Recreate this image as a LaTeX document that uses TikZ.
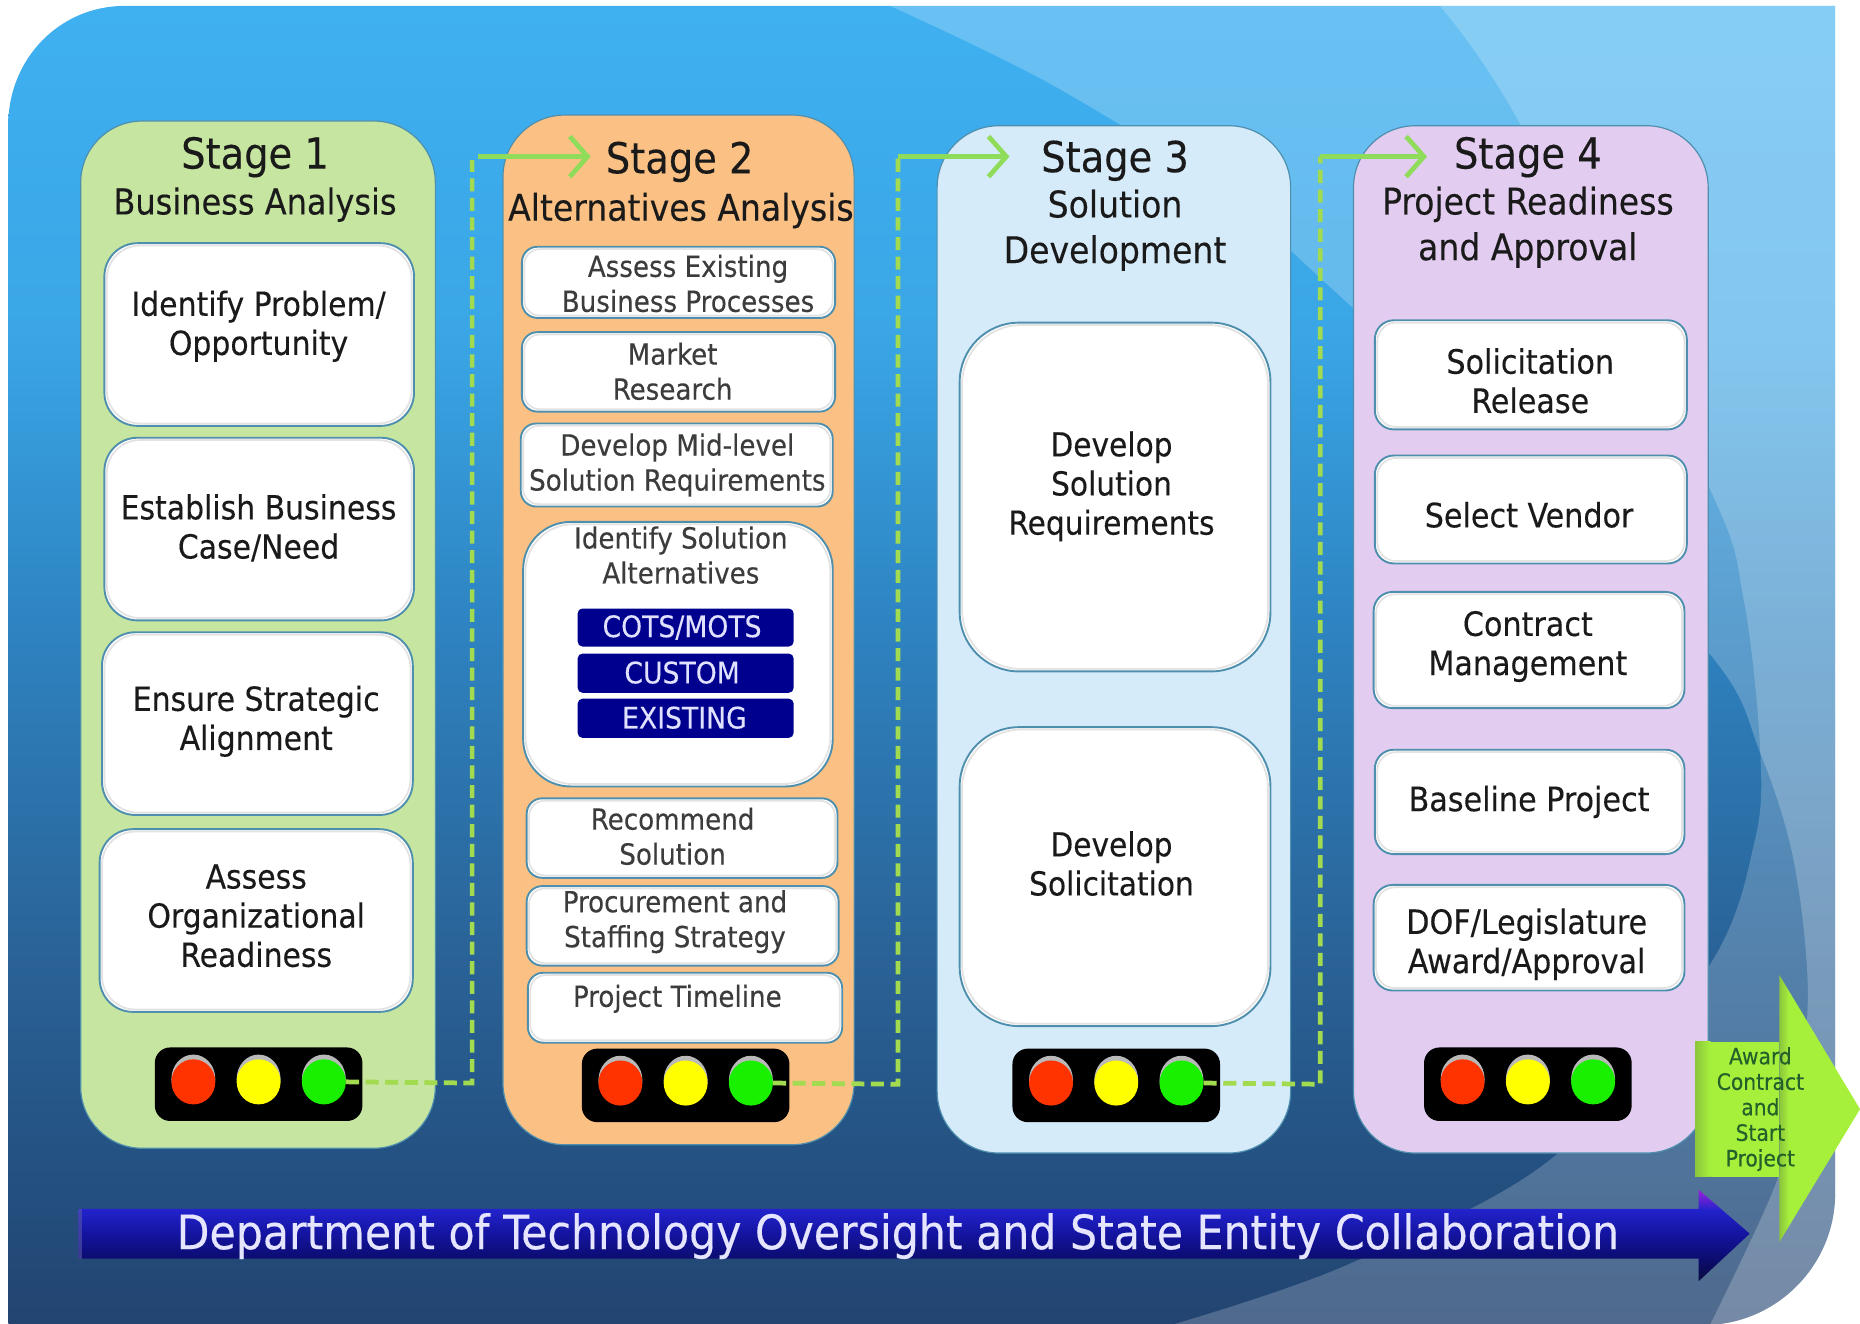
\documentclass[tikz,border=0pt]{standalone}
\usepackage{fontspec}
\setmainfont[FakeBold=0.25]{DejaVu Sans Condensed}
\usetikzlibrary{arrows.meta,shapes.geometric}
\definecolor{cA}{HTML}{234470}\definecolor{cB}{HTML}{234F7F}\definecolor{cC}{HTML}{2A6398}
\definecolor{cD}{HTML}{2E84C2}\definecolor{cE}{HTML}{3AA6E6}\definecolor{cF}{HTML}{3FB0F0}
\definecolor{pg}{HTML}{C5E5A0}\definecolor{po}{HTML}{FBC184}\definecolor{pb}{HTML}{D6EBFA}\definecolor{pl}{HTML}{E2CCF0}
\definecolor{edge}{HTML}{4F8FAE}\definecolor{txt}{HTML}{1A1A1A}\definecolor{navy}{HTML}{00008F}
\definecolor{dashg}{HTML}{A2DA50}\definecolor{arrg}{HTML}{8FDB5A}
\definecolor{lgreen}{HTML}{A6F03C}\definecolor{dgreen}{HTML}{8CC63C}\definecolor{gtxt}{HTML}{24602A}
\definecolor{ared}{HTML}{FF3300}\definecolor{ayel}{HTML}{FFFF00}\definecolor{agrn}{HTML}{19F000}
\definecolor{ga}{HTML}{0A0A40}\definecolor{gb}{HTML}{0C0C70}\definecolor{gc}{HTML}{1414A0}\definecolor{gd}{HTML}{2222CC}\definecolor{ge}{HTML}{9A22D8}
\pgfdeclareverticalshading{bgshade}{100bp}{color(0bp)=(cA);color(25bp)=(cA);color(30.2bp)=(cB);color(39.2bp)=(cC);color(51.8bp)=(cD);color(62.6bp)=(cE);color(75bp)=(cF);color(100bp)=(cF)}
\pgfdeclareverticalshading{barshade}{100bp}{color(0bp)=(ga);color(25bp)=(ga);color(37.3bp)=(gb);color(50.9bp)=(gc);color(63.9bp)=(gd);color(75bp)=(ge);color(100bp)=(ge)}
\pgfdeclarehorizontalshading{greenshade}{100bp}{color(0bp)=(dgreen);color(25bp)=(dgreen);color(31bp)=(lgreen);color(100bp)=(lgreen)}
\tikzset{
 panel/.style={draw=edge,line width=1pt,inner sep=0pt},
 wbox/.style={draw=edge,line width=1.6pt,inner sep=0pt},
 navybox/.style={fill=navy,rounded corners=4pt,inner sep=0pt},
 lamphouse/.style={fill=black,rounded corners=13pt,inner sep=0pt},
 lamp/.style={ellipse,minimum width=37pt,inner sep=0pt},
 head/.style={text=txt,align=center,inner sep=0pt,yshift=-2.5pt,font=\fontsize{36}{40}\selectfont},
 sub/.style={text=txt,align=center,inner sep=0pt,yshift=-2.5pt,font=\fontsize{31}{38.5}\selectfont},
 big/.style={text=txt,align=center,inner sep=0pt,yshift=-1pt,font=\fontsize{28}{33}\selectfont},
 bigr/.style={text=txt,align=center,inner sep=0pt,yshift=-1pt,font=\fontsize{28.3}{33}\selectfont},
 bigc/.style={text=txt,align=center,inner sep=0pt,yshift=-1pt,font=\fontsize{27.8}{33}\selectfont},
 small/.style={text=txt!85!white,align=center,inner sep=0pt,font=\fontsize{24.5}{29.5}\selectfont},
 navytxt/.style={text=white!88!blue,align=center,inner sep=0pt,font=\fontsize{25}{28}\selectfont},
 dashline/.style={draw=dashg,line width=4pt,dash pattern=on 11pt off 5.5pt},
 solidarr/.style={draw=arrg,line width=4pt,-{Straight Barb[length=15pt,width=34pt,line width=4pt]}},
}
\newcommand\bx[7]{% name x1 y1 x2 y2 style radius
 \node[#6,rounded corners=#7,minimum width={(#4-#2)*1pt},minimum height={(#5-#3)*1pt}] (#1) at ({(#2+#4)/2},{(#3+#5)/2}) {};}
\newcommand\pn[6]{\bx{#1}{#2}{#3}{#4}{#5}{panel,fill=#6}{52pt}}
\newcommand\wb[6]{% name x1 y1 x2 y2 radius : white box with soft inner edge
 \bx{#1}{#2}{#3}{#4}{#5}{wbox,fill=white}{#6}
 \draw[gray!22,line width=1.5pt,rounded corners=#6] ({#2+2},{#3+2}) rectangle ({#4-2},{#5-2});}
\newcommand\lights[3]{% prefix x y
 \node[lamphouse,minimum width=175pt,minimum height=62pt] (#1) at (#2,#3) {};
 \foreach \dx/\cc/\nn in {-55/ared/r,0/ayel/y,55/agrn/g}{
  \node[lamp,minimum height=41pt,fill=gray!55] at ({#2+\dx},{#3-4.5}) {};
  \node[lamp,fill=\cc,minimum height=38pt] (#1\nn) at ({#2+\dx},{#3-2}) {};
 }}
\def\bgpath{(7,105) .. controls (7,50) and (50,5) .. (105,5) -- (1547,5) -- (1547,1006) .. controls (1547,1067) and (1497,1117) .. (1436,1117) -- (7,1117) -- cycle}
\begin{document}
\begin{tikzpicture}[x=1pt,y=-1pt]
\useasboundingbox (0,0) rectangle (1568,1116);
\shade[shading=bgshade] \bgpath;
\begin{scope}
 \clip \bgpath;
 \fill[white,opacity=.2] plot[smooth,tension=.55] coordinates {(1212,3) (1279,100) (1439,407) (1470,506) (1484,635) (1479,710) (1441,814) (1310,975) (1134,1067) (984,1118)} -- (1600,1118) -- (1600,0) -- cycle;
 \fill[white,opacity=.22] plot[smooth,tension=.55] coordinates {(746,3) (886,71) (1048,171) (1090,213) (1270,380) (1441,551) (1484,635) (1512,725) (1524,834) (1515,930) (1495,1003) (1441,1118)} -- (1600,1118) -- (1600,0) -- cycle;
\end{scope}
% panels
\pn{p1}{68}{102}{367}{968}{pg}
\pn{p2}{424}{97}{720}{965}{po}
\pn{p3}{790}{106}{1088}{972}{pb}
\pn{p4}{1141}{106}{1440}{972}{pl}
% headings
\node[head] (h1) at (215,130) {Stage 1};
\node[sub,font=\fontsize{30}{38.5}\selectfont] (s1) at (215,170) {Business Analysis};
\node[head] (h2) at (573,134) {Stage 2};
\node[sub,font=\fontsize{31}{38.5}\selectfont] (s2) at (574,175) {Alternatives Analysis};
\node[head] (h3) at (940,133) {Stage 3};
\node[sub] (s3) at (940,191.5) {Solution\\Development};
\node[head] (h4) at (1288,130) {Stage 4};
\node[sub] (s4) at (1288,189) {Project Readiness\\and Approval};
% stage 1
\wb{a1}{88}{205}{349}{359}{28pt}
\wb{a2}{88}{369}{349}{523}{28pt}
\wb{a3}{86}{533}{348}{687}{28pt}
\wb{a4}{84}{699}{348}{853}{28pt}
\node[big] (ta1) at (218,274) {Identify Problem/\\Opportunity};
\node[big] (ta2) at (218,444) {Establish Business\\Case/Need};
\node[big] (ta3) at (216,607) {Ensure Strategic\\Alignment};
\node[big] (ta4) at (216,771) {Assess\\Organizational\\Readiness};
% stage 2
\wb{b1}{440}{208}{704}{268}{13pt}
\wb{b2}{440}{280}{704}{347}{13pt}
\wb{b3}{439}{357}{702}{427}{13pt}
\wb{b4}{441}{440}{702}{663}{40pt}
\wb{b5}{444}{673}{706}{740}{13pt}
\wb{b6}{444}{747}{707}{814}{13pt}
\wb{b7}{445}{820}{710}{879}{13pt}
\node[small] (tb1) at (580,239) {Assess Existing\\Business Processes};
\node[small] (tb2) at (567,313) {Market\\Research};
\node[small] (tb3) at (571,392) {Develop Mid-level\\Solution Requirements};
\node[small] (tb4) at (574,468) {Identify Solution\\Alternatives};
\node[navybox,minimum width=182pt,minimum height=32pt] (n1) at (578,529) {};
\node[navybox,minimum width=182pt,minimum height=33pt] (n2) at (578,567.5) {};
\node[navybox,minimum width=182pt,minimum height=33pt] (n3) at (578,605.5) {};
\node[navytxt] (tn1) at (575,529) {COTS/MOTS};
\node[navytxt] (tn2) at (575,567) {CUSTOM};
\node[navytxt] (tn3) at (577,605) {EXISTING};
\node[small] (tb5) at (567,705) {Recommend\\Solution};
\node[small] (tb6) at (569,777) {Procurement and\\Staffing Strategy};
\node[small] (tb7) at (571,842) {Project Timeline};
% stage 3
\wb{c1}{809}{272}{1071}{566}{50pt}
\wb{c2}{809}{613}{1071}{865}{50pt}
\node[bigc] (tc1) at (937,409) {Develop\\Solution\\Requirements};
\node[bigc] (tc2) at (937,727) {Develop\\Solicitation};
% stage 4
\wb{d1}{1159}{270}{1422}{362}{16pt}
\wb{d2}{1159}{384}{1422}{475}{16pt}
\wb{d3}{1158}{499}{1420}{597}{16pt}
\wb{d4}{1159}{632}{1420}{720}{16pt}
\wb{d5}{1158}{746}{1420}{835}{16pt}
\node[bigr] (td1) at (1290,320) {Solicitation\\Release};
\node[bigr] (td2) at (1289,433) {Select Vendor};
\node[bigr] (td3) at (1288,544) {Contract\\Management};
\node[bigr] (td4) at (1289,675) {Baseline Project};
\node[bigr] (td5) at (1287,795) {DOF/Legislature\\Award/Approval};
% traffic lights
\lights{L1}{218}{914}
\lights{L2}{578}{915}
\lights{L3}{941}{915}
\lights{L4}{1288}{914}
% connectors
\coordinate (k1a) at (398,913); \coordinate (k1b) at (398,135); \coordinate (k1c) at (403,132); \coordinate (k1d) at (498,132);
\coordinate (k2a) at (757,914); \coordinate (k2b) at (757,132); \coordinate (k2d) at (851,132);
\coordinate (k3a) at (1113,914); \coordinate (k3b) at (1113,132); \coordinate (k3d) at (1203,132);
\draw[dashline] (L1g.east) -- (k1a) -- (k1b);
\draw[solidarr] (k1c) -- (k1d);
\draw[dashline] (L2g.east) -- (k2a) -- (k2b);
\draw[solidarr] (k2b) -- (k2d);
\draw[dashline] (L3g.east) -- (k3a) -- (k3b);
\draw[solidarr] (k3b) -- (k3d);
% bottom arrow
\shade[shading=barshade] (66,1019) -- (1432,1019) -- (1432,1003) -- (1475,1040) -- (1432,1080) -- (1432,1061) -- (66,1061) -- cycle;
\fill[gray!70!blue,opacity=.6] (66,1019) rectangle (69,1061);
\node[text=white!90!blue,inner sep=0pt,yshift=-2pt,font=\fontsize{40}{44}\selectfont] (bar) at (757,1040) {Department of Technology Oversight and State Entity Collaboration};
% green arrow
\shade[shading=greenshade] (1500,822) -- (1568,935) -- (1500,1047) -- cycle;
\shade[left color=dgreen,right color=lgreen] (1429,878) rectangle (1442,992);
\fill[lgreen] (1442,878) rectangle (1500,992);
\node[text=gtxt,align=center,inner sep=0pt,font=\fontsize{19}{21.5}\selectfont] (award) at (1484,935) {Award\\Contract\\and\\Start\\Project};
\end{tikzpicture}
\end{document}
